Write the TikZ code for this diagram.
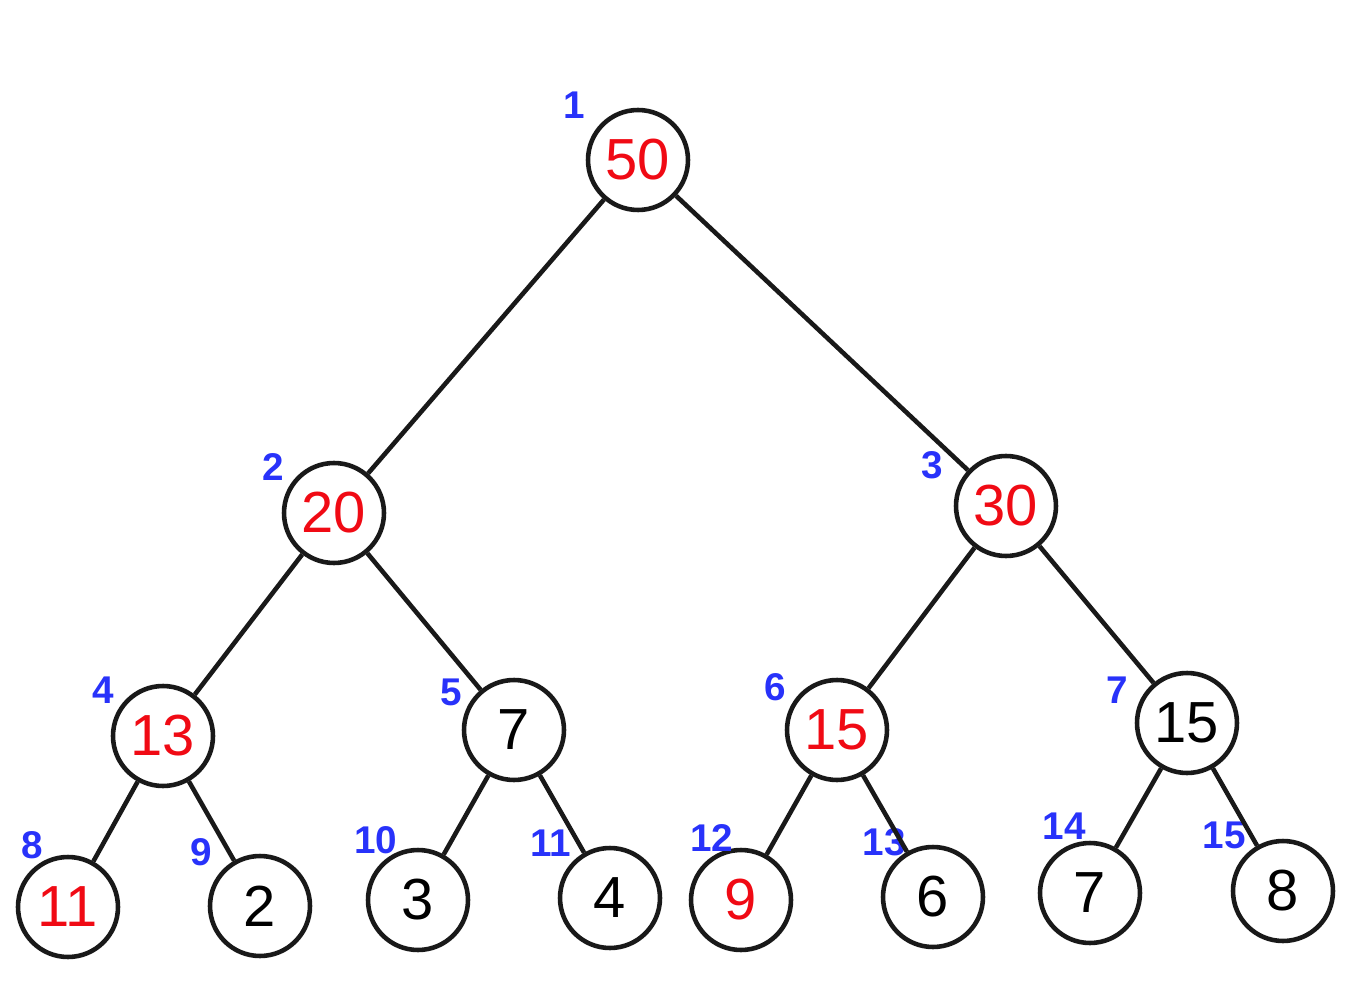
\documentclass[tikz,border=0pt]{standalone}
\usepackage{fontspec}
\setmainfont{Liberation Sans}
\definecolor{valred}{RGB}{240,10,20}
\definecolor{idxblue}{RGB}{40,50,250}
\definecolor{ink}{RGB}{25,25,25}
\tikzset{
  heapnode/.style={circle, draw=ink, line width=2.6pt, minimum size=2cm, inner sep=0pt, font=\fontsize{33}{33}\selectfont},
  hot/.style={text=valred},
  idx/.style={text=idxblue, font=\bfseries\fontsize{22}{22}\selectfont},
  edge/.style={draw=ink, line width=2.6pt}
}
\begin{document}
\begin{tikzpicture}[x=0.02cm, y=-0.02cm]
  \useasboundingbox (0,0) rectangle (1367,1000);
  % level 0 and 1
  \node[heapnode, hot] (n1) at (638,160) {50};
  \node[heapnode, hot] (n2) at (334,513) {20};
  \node[heapnode, hot] (n3) at (1006,506) {30};
  % level 2
  \node[heapnode, hot] (n4) at (163,736) {13};
  \node[heapnode] (n5) at (514,730) {7};
  \node[heapnode, hot] (n6) at (837,730) {15};
  \node[heapnode] (n7) at (1187,723) {15};
  % level 3
  \node[heapnode, hot] (n8) at (68,907) {11};
  \node[heapnode] (n9) at (260,906) {2};
  \node[heapnode] (n10) at (418,900) {3};
  \node[heapnode] (n11) at (610,898) {4};
  \node[heapnode, hot] (n12) at (741,900) {9};
  \node[heapnode] (n13) at (933,897) {6};
  \node[heapnode] (n14) at (1090,893) {7};
  \node[heapnode] (n15) at (1283,891) {8};
  % index labels
  \node[idx] (i1) at (574,105) {1};
  \node[idx] (i2) at (273,467) {2};
  \node[idx] (i3) at (932,465) {3};
  \node[idx] (i4) at (103,690) {4};
  \node[idx] (i5) at (451,692) {5};
  \node[idx] (i6) at (775,687) {6};
  \node[idx] (i7) at (1117,690) {7};
  \node[idx] (i8) at (32,845) {8};
  \node[idx] (i9) at (201,852) {9};
  \node[idx] (i10) at (376,840) {10};
  \node[idx] (i11) at (551,843) {11};
  \node[idx] (i12) at (712,838) {12};
  \node[idx] (i13) at (884,842) {13};
  \node[idx] (i14) at (1064,826) {14};
  \node[idx] (i15) at (1224,835) {15};
  % edges
  \foreach \p/\c in {1/2,1/3,2/4,2/5,3/6,3/7,4/8,4/9,5/10,5/11,6/12,6/13,7/14,7/15}
    \draw[edge] (n\p) -- (n\c);
\end{tikzpicture}
\end{document}
